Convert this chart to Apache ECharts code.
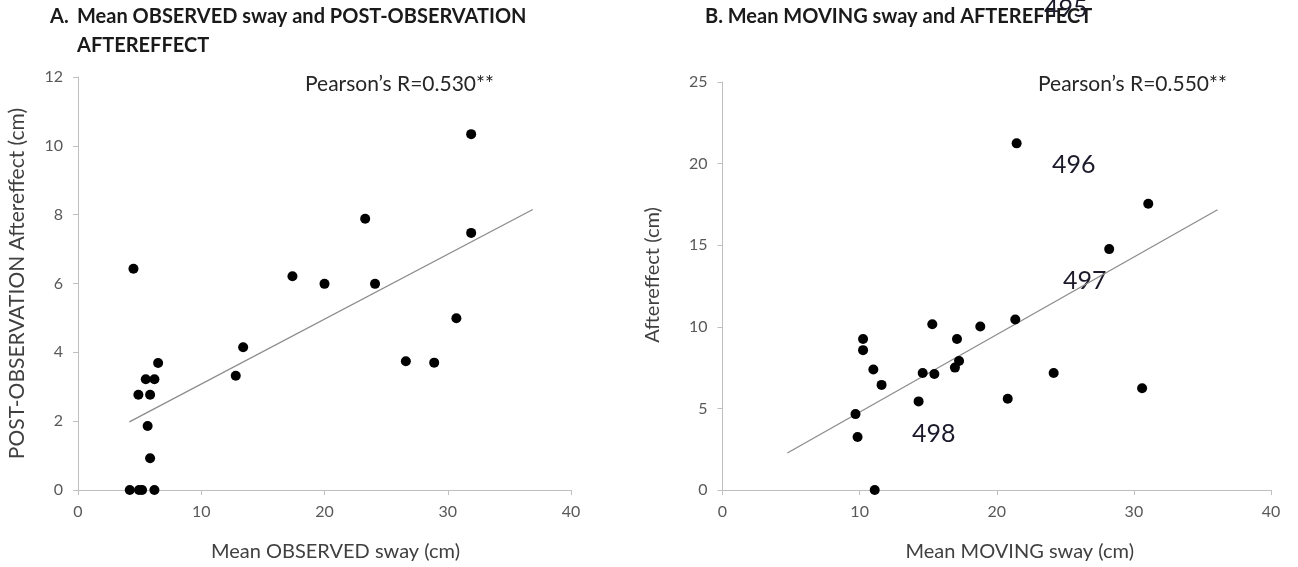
<!DOCTYPE html>
<html>
<head>
<meta charset="utf-8">
<script src="https://cdn.jsdelivr.net/npm/echarts@6/dist/echarts.min.js"></script>
<style>
  html, body { margin: 0; padding: 0; background: #fff; }
  #chart { width: 1298px; height: 567px; }
</style>
</head>
<body>
<div id="chart"></div>
<script>
// panel A: observed sway vs post-observation aftereffect
var obsSway = [4.2, 4.95, 5.2, 6.2, 4.9, 5.5, 6.2, 5.85, 6.5, 5.65, 5.85, 12.8, 13.4, 4.5, 17.4, 20.0, 31.9, 23.3, 31.9, 24.1, 30.7, 26.6, 28.9];
var obsAfter = [0, 0, 0, 0, 2.77, 3.22, 3.22, 2.77, 3.69, 1.86, 0.92, 3.32, 4.15, 6.43, 6.21, 5.99, 10.34, 7.88, 7.47, 5.99, 4.99, 3.74, 3.7];
var obsFitX = [4.17, 36.9];
var obsFitY = [1.98, 8.15];

// panel B: moving sway vs aftereffect
var movSway = [11.1, 9.85, 9.7, 10.25, 10.25, 11.0, 11.6, 14.3, 14.6, 15.45, 15.3, 16.95, 17.25, 17.1, 18.8, 21.45, 31.05, 28.2, 21.35, 24.15, 20.8, 30.6];
var movAfter = [0, 3.25, 4.65, 9.25, 8.57, 7.38, 6.44, 5.43, 7.17, 7.11, 10.16, 7.5, 7.9, 9.25, 10.02, 21.24, 17.54, 14.76, 10.45, 7.17, 5.59, 6.24];
var movFitX = [4.73, 36.1];
var movFitY = [2.27, 17.17];

var pearsonA = "Pearson\u2019s R=0.530**";
var pearsonB = "Pearson\u2019s R=0.550**";

var FONT = 'Lato, "Open Sans", sans-serif';
var axisGray = '#bfbfbf';

function pairs(xs, ys){
    var out = [];
    for (var i = 0; i < xs.length; i++) out.push([xs[i], ys[i]]);
    return out;
}

function xAxisCfg(idx, name, shift){
    return {
        type: 'value', gridIndex: idx, min: 0, max: 40, interval: 10,
        name: name, nameLocation: 'middle', nameGap: 52,
        nameTextStyle: { fontFamily: FONT, fontSize: 20, color: '#404040', padding: [0, 0, 0, shift] },
        axisLine: { show: true, onZero: false, lineStyle: { color: axisGray, width: 1 } },
        axisTick: { show: true, inside: false, length: 5, lineStyle: { color: axisGray } },
        axisLabel: { fontFamily: FONT, fontSize: 16, color: '#595959', margin: 14 },
        splitLine: { show: false }
    };
}

function yAxisCfg(idx, name, max, step, gap, shift, size){
    return {
        type: 'value', gridIndex: idx, min: 0, max: max, interval: step,
        name: name, nameLocation: 'middle', nameGap: gap, nameRotate: 90,
        nameTextStyle: { fontFamily: FONT, fontSize: size, color: '#404040', padding: [0, 0, 0, shift] },
        axisLine: { show: true, onZero: false, lineStyle: { color: axisGray, width: 1 } },
        axisTick: { show: true, inside: false, length: 5, lineStyle: { color: axisGray } },
        axisLabel: { fontFamily: FONT, fontSize: 16, color: '#595959', margin: 15 },
        splitLine: { show: false }
    };
}

function txt(x, y, s, size, weight, color){
    return {
        type: 'text', left: x, top: y,
        style: { text: s, fontFamily: FONT, fontSize: size, fontWeight: weight, fill: color }
    };
}

var chart = echarts.init(document.getElementById('chart'));
chart.setOption({
    backgroundColor: '#fff',
    animation: false,
    grid: [
        { left: 78, top: 77, width: 493, height: 415 },
        { left: 722.5, top: 82, width: 548.5, height: 410 }
    ],
    xAxis: [
        xAxisCfg(0, 'Mean OBSERVED sway (cm)', 22),
        xAxisCfg(1, 'Mean MOVING sway (cm)', 46)
    ],
    yAxis: [
        yAxisCfg(0, 'POST-OBSERVATION Aftereffect (cm)', 12, 2, 50, 0, 21),
        yAxisCfg(1, 'Aftereffect (cm)', 25, 5, 60, 22, 20)
    ],
    series: [
        {
            type: 'line', xAxisIndex: 0, yAxisIndex: 0, data: pairs(obsFitX, obsFitY),
            symbol: 'none', lineStyle: { color: '#8c8c8c', width: 1.3 }, silent: true, z: 1
        },
        {
            type: 'scatter', xAxisIndex: 0, yAxisIndex: 0, data: pairs(obsSway, obsAfter),
            symbol: 'circle', symbolSize: 10, itemStyle: { color: '#000', opacity: 1 }, z: 2
        },
        {
            type: 'line', xAxisIndex: 1, yAxisIndex: 1, data: pairs(movFitX, movFitY),
            symbol: 'none', lineStyle: { color: '#8c8c8c', width: 1.3 }, silent: true, z: 1
        },
        {
            type: 'scatter', xAxisIndex: 1, yAxisIndex: 1, data: pairs(movSway, movAfter),
            symbol: 'circle', symbolSize: 10, itemStyle: { color: '#000', opacity: 1 }, z: 2
        }
    ],
    graphic: [
        txt(50, 7, 'A.', 20, 'bold', '#1a1a1a'),
        txt(77, 7, 'Mean OBSERVED sway and POST-OBSERVATION', 20, 'bold', '#1a1a1a'),
        txt(77, 36, 'AFTEREFFECT', 20, 'bold', '#1a1a1a'),
        txt(705, 7, 'B. Mean MOVING sway and AFTEREFFECT', 20, 'bold', '#1a1a1a'),
        txt(305, 74, pearsonA, 21, 'normal', '#262626'),
        txt(1038, 74, pearsonB, 21, 'normal', '#262626'),
        txt(1044, -4, '495', 25, 'normal', '#1a1a2a'),
        txt(1052, 152, '496', 25, 'normal', '#1a1a2a'),
        txt(1063, 268, '497', 25, 'normal', '#1a1a2a'),
        txt(912, 421, '498', 25, 'normal', '#1a1a2a')
    ]
});
</script>
</body>
</html>
